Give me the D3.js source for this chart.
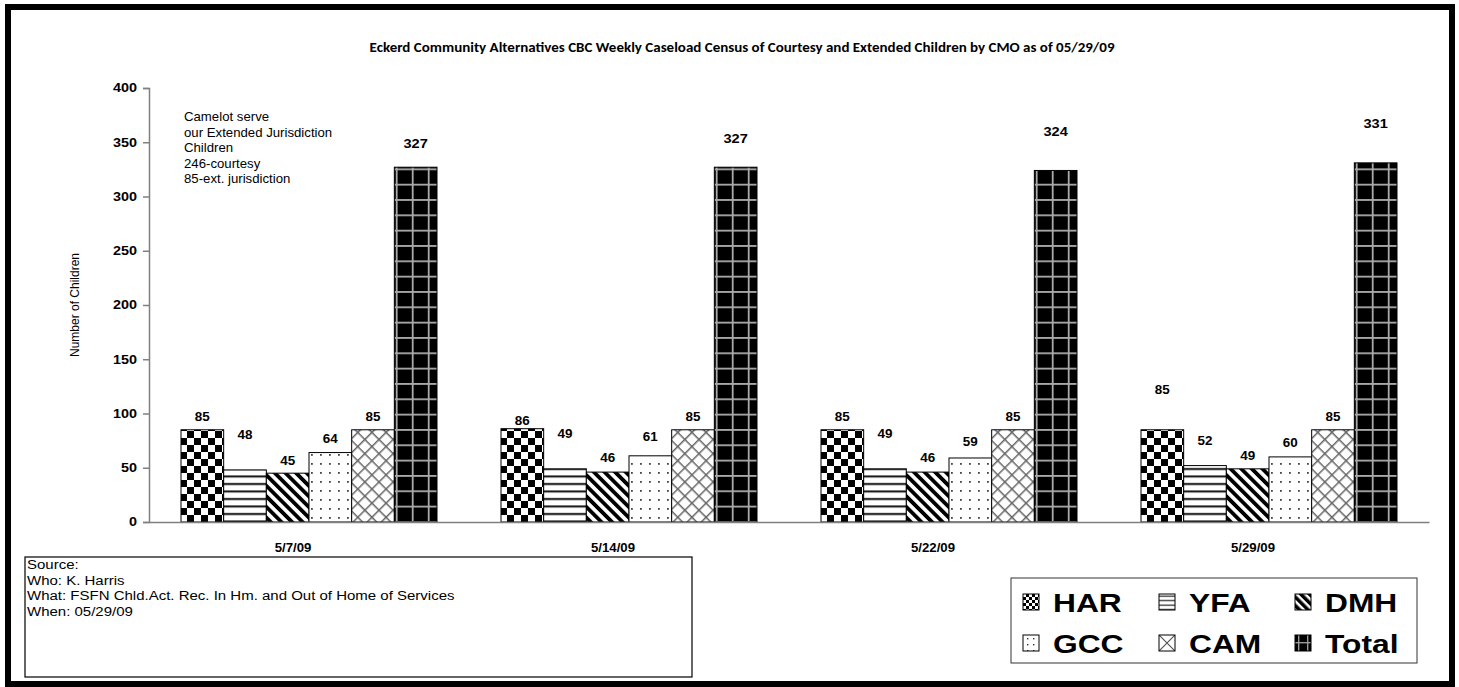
<!DOCTYPE html>
<html><head><meta charset="utf-8">
<script src="https://cdn.jsdelivr.net/npm/d3@7"></script>
<style>body{margin:0;background:#fff}svg{display:block}</style>
</head><body>
<script>
const categories = ["5/7/09", "5/14/09", "5/22/09", "5/29/09"];
const seriesNames = ["HAR", "YFA", "DMH", "GCC", "CAM", "Total"];
const HAR = [85, 86, 85, 85];
const YFA = [48, 49, 49, 52];
const DMH = [45, 46, 46, 49];
const GCC = [64, 61, 59, 60];
const CAM = [85, 85, 85, 85];
const Total = [327, 327, 324, 331];
const yTicks = [0, 50, 100, 150, 200, 250, 300, 350, 400];
const titleText = "Eckerd Community Alternatives CBC  Weekly Caseload Census of Courtesy and Extended Children by CMO as of  05/29/09";
const noteLines = ["Camelot serve", "our Extended Jurisdiction", "Children", "246-courtesy", "85-ext. jurisdiction"];
const sourceLines = ["Source:", "Who: K. Harris", "What: FSFN Chld.Act. Rec. In Hm. and Out of Home of Services", "When: 05/29/09"];

const seriesValues = [HAR, YFA, DMH, GCC, CAM, Total];
// style: how far each value label sits above its bar top (px), per series x category
const labelLift = [
  [13, 8, 13, 40],
  [35, 35, 35, 25],
  [12, 14, 14, 13],
  [14, 19, 16, 14],
  [13, 13, 13, 13],
  [24, 29, 39, 40]
];

const W = 1459, H = 687;
const svg = d3.select("body").append("svg").attr("width", W).attr("height", H);
const defs = svg.append("defs");
const FONT = "'Liberation Sans', Arial, sans-serif";

function stext(parent, x, y, sx, str) {
  return parent.append("text").attr("transform", `translate(${x},${y}) scale(${sx},1)`).text(str);
}

// patterns
function pat(id, w, h) {
  return defs.append("pattern").attr("id", id).attr("patternUnits", "userSpaceOnUse")
    .attr("width", w).attr("height", h);
}
let p;
p = pat("pHAR", 14, 14).attr("x", 181).attr("y", 522);
p.append("rect").attr("width", 14).attr("height", 14).attr("fill", "#fff");
p.append("rect").attr("width", 7).attr("height", 7).attr("fill", "#000");
p.append("rect").attr("x", 7).attr("y", 7).attr("width", 7).attr("height", 7).attr("fill", "#000");

p = pat("pYFA", 8, 7.5);
p.append("rect").attr("width", 8).attr("height", 7.5).attr("fill", "#fff");
p.append("rect").attr("y", 3).attr("width", 8).attr("height", 2).attr("fill", "#111");

p = pat("pDMH", 7.5, 7.5).attr("patternTransform", "rotate(-45)");
p.append("rect").attr("width", 7.5).attr("height", 7.5).attr("fill", "#fff");
p.append("rect").attr("x", 0).attr("width", 3.8).attr("height", 7.5).attr("fill", "#000");

p = pat("pGCC", 9, 9);
p.append("rect").attr("width", 9).attr("height", 9).attr("fill", "#fff");
p.append("rect").attr("x", 4).attr("y", 4).attr("width", 1.8).attr("height", 1.8).attr("fill", "#444");

p = pat("pCAM", 10, 10).attr("patternTransform", "rotate(45)");
p.append("rect").attr("width", 10).attr("height", 10).attr("fill", "#fff");
p.append("rect").attr("x", 0).attr("width", 1.5).attr("height", 10).attr("fill", "#666");
p.append("rect").attr("y", 0).attr("width", 10).attr("height", 1.5).attr("fill", "#666");

p = pat("pTotal", 16, 15.33).attr("y", 521);
p.append("rect").attr("width", 16).attr("height", 15.33).attr("fill", "#000");
p.append("rect").attr("x", 6.8).attr("width", 1.8).attr("height", 15.33).attr("fill", "#aaa");
p.append("rect").attr("y", 0).attr("width", 16).attr("height", 1.8).attr("fill", "#aaa");

// smaller legend swatch patterns
p = pat("lHAR", 6, 6);
p.append("rect").attr("width", 6).attr("height", 6).attr("fill", "#fff");
p.append("rect").attr("width", 3).attr("height", 3).attr("fill", "#000");
p.append("rect").attr("x", 3).attr("y", 3).attr("width", 3).attr("height", 3).attr("fill", "#000");
p = pat("lYFA", 4, 4.5).attr("y", 594);
p.append("rect").attr("width", 4).attr("height", 4.5).attr("fill", "#fff");
p.append("rect").attr("y", 1.5).attr("width", 4).attr("height", 1.3).attr("fill", "#333");
p = pat("lDMH", 6, 6).attr("patternTransform", "rotate(-45)");
p.append("rect").attr("width", 6).attr("height", 6).attr("fill", "#fff");
p.append("rect").attr("width", 3.5).attr("height", 6).attr("fill", "#000");
p = pat("lGCC", 6, 6).attr("x", 1025).attr("y", 636);
p.append("rect").attr("width", 6).attr("height", 6).attr("fill", "#fff");
p.append("rect").attr("x", 2).attr("y", 2).attr("width", 1.4).attr("height", 1.4).attr("fill", "#333");
p = pat("lCAM", 16, 16).attr("x", 1159).attr("y", 635);
p.append("rect").attr("width", 16).attr("height", 16).attr("fill", "#fff");
p.append("path").attr("d", "M0,0L16,16M16,0L0,16").attr("stroke", "#555").attr("stroke-width", 1.2);
p = pat("lTotal", 16, 16).attr("x", 1295).attr("y", 635);
p.append("rect").attr("width", 16).attr("height", 16).attr("fill", "#000");
p.append("rect").attr("x", 3).attr("width", 1.4).attr("height", 16).attr("fill", "#999");
p.append("rect").attr("x", 12).attr("width", 1.4).attr("height", 16).attr("fill", "#999");
p.append("rect").attr("y", 7).attr("width", 16).attr("height", 1.4).attr("fill", "#999");

const fills = seriesNames.map(n => `url(#p${n})`);
const legFills = seriesNames.map(n => `url(#l${n})`);

// outer border
svg.append("rect").attr("x", 8).attr("y", 7).attr("width", 1444).attr("height", 677)
  .attr("fill", "#fff").attr("stroke", "#000").attr("stroke-width", 6);

// title
svg.append("text").attr("x", 742).attr("y", 52).attr("text-anchor", "middle")
  .attr("font-family", "Carlito, 'Open Sans', sans-serif").attr("font-weight", "bold")
  .attr("font-size", 13.5).attr("textLength", 745).attr("lengthAdjust", "spacingAndGlyphs")
  .text(titleText);

// scales
const x0 = d3.scaleBand().domain(categories).range([149, 1429]).paddingInner(0.2).paddingOuter(0.1);
const x1 = d3.scaleBand().domain(seriesNames).range([0, x0.bandwidth()]);
const y = d3.scaleLinear().domain([0, 400]).range([522, 88]);

// y axis
const yAxis = svg.append("g").attr("transform", "translate(149,0)")
  .call(d3.axisLeft(y).tickValues(yTicks).tickSize(6).tickPadding(6));
yAxis.select(".domain").attr("stroke", "#808080").attr("stroke-width", 1.5);
yAxis.selectAll(".tick line").attr("stroke", "#808080").attr("stroke-width", 1.5);
yAxis.selectAll(".tick text").attr("font-family", FONT).attr("font-weight", "bold")
  .attr("font-size", 12).attr("fill", "#000")
  .attr("x", -12 / 1.2).attr("transform", "scale(1.2,1)");

// y title
svg.append("text").attr("transform", "translate(79,305) rotate(-90)")
  .attr("text-anchor", "middle").attr("font-family", FONT).attr("font-size", 12)
  .text("Number of Children");

// bars
const groups = svg.append("g").selectAll("g").data(categories).join("g")
  .attr("transform", d => `translate(${x0(d)},0)`);
groups.each(function(cat, ci) {
  const g = d3.select(this);
  seriesNames.forEach((s, si) => {
    const v = seriesValues[si][ci];
    g.append("rect").attr("x", x1(s)).attr("y", y(v)).attr("width", x1.bandwidth())
      .attr("height", y(0) - y(v)).attr("fill", fills[si]).attr("stroke", "#000").attr("stroke-width", 1);
    const fs = si === 5 ? 13 : 12;
    stext(g, x1(s) + x1.bandwidth() / 2, y(v) - labelLift[si][ci] + fs * 0.36, 1.12, v)
      .attr("text-anchor", "middle").attr("font-family", FONT).attr("font-weight", "bold")
      .attr("font-size", fs);
  });
});

// x axis
const xAxis = svg.append("g").attr("transform", "translate(0,522)")
  .call(d3.axisBottom(x0).tickSize(0).tickPadding(21));
xAxis.select(".domain").attr("stroke", "#808080").attr("stroke-width", 1.5);
xAxis.selectAll(".tick text").attr("font-family", FONT).attr("font-weight", "bold")
  .attr("font-size", 12).attr("fill", "#000").attr("x", -16 / 1.1).attr("transform", "scale(1.1,1)");

// note
const noteG = svg.append("g").attr("font-family", FONT).attr("font-size", 12);
noteLines.forEach((t, i) => stext(noteG, 184, 121 + i * 15.5, 1.1, t));

// source box
svg.append("rect").attr("x", 25).attr("y", 557).attr("width", 667).attr("height", 120)
  .attr("fill", "#fff").attr("stroke", "#000").attr("stroke-width", 1.2);
const srcG = svg.append("g").attr("font-family", FONT).attr("font-size", 12);
sourceLines.forEach((t, i) => stext(srcG, 27, 569 + i * 15.7, 1.25, t));

// legend
svg.append("rect").attr("x", 1011).attr("y", 578).attr("width", 406).attr("height", 85)
  .attr("fill", "#fff").attr("stroke", "#333").attr("stroke-width", 1);
const legX = [1023, 1159, 1295];
const legY = [612, 653];
const legG = svg.append("g").attr("font-family", FONT).attr("font-weight", "bold").attr("font-size", 25);
seriesNames.forEach((s, i) => {
  const lx = legX[i % 3], ly = legY[Math.floor(i / 3)];
  svg.append("rect").attr("x", lx).attr("y", ly - 18).attr("width", 16).attr("height", 16)
    .attr("fill", legFills[i]).attr("stroke", "#000").attr("stroke-width", 1);
  stext(legG, lx + 30, ly, 1.27, s);
});
</script>
</body></html>
